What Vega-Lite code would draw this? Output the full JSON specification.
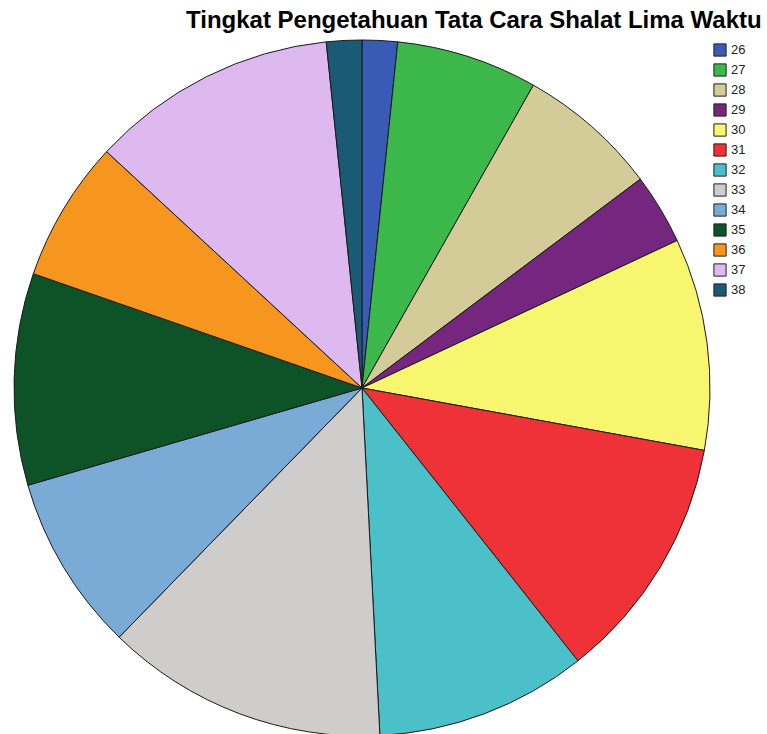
{
  "$schema": "https://vega.github.io/schema/vega-lite/v6.json",
  "width": 724,
  "height": 696,
  "autosize": {"type": "none"},
  "padding": {"left": 0, "top": 40, "right": 43, "bottom": 0},
  "background": "white",
  "config": {"view": {"stroke": null}, "font": "Liberation Sans"},
  "title": {
    "text": "Tingkat Pengetahuan Tata Cara Shalat Lima Waktu",
    "font": "Liberation Sans",
    "fontSize": 24,
    "fontWeight": "bold",
    "color": "#000000",
    "anchor": "start",
    "dx": 186,
    "offset": 5
  },
  "data": {
    "values": [
      {"skor": "26", "n": 1},
      {"skor": "27", "n": 4},
      {"skor": "28", "n": 4},
      {"skor": "29", "n": 2},
      {"skor": "30", "n": 6},
      {"skor": "31", "n": 7},
      {"skor": "32", "n": 6},
      {"skor": "33", "n": 8},
      {"skor": "34", "n": 5},
      {"skor": "35", "n": 6},
      {"skor": "36", "n": 4},
      {"skor": "37", "n": 7},
      {"skor": "38", "n": 1}
    ]
  },
  "mark": {"type": "arc", "stroke": "#1a1a1a", "strokeWidth": 1},
  "encoding": {
    "theta": {"field": "n", "type": "quantitative", "stack": true},
    "order": {"field": "skor", "type": "ordinal", "sort": "ascending"},
    "color": {
      "field": "skor",
      "type": "nominal",
      "sort": ["26","27","28","29","30","31","32","33","34","35","36","37","38"],
      "scale": {
        "domain": ["26","27","28","29","30","31","32","33","34","35","36","37","38"],
        "range": ["#3A5BB5","#3CB84A","#D4CC98","#75267E","#F8F56E","#EE3238","#4BC0C8","#CFCDCB","#7AAAD6","#0E5228","#F7961F","#DDB9F0","#1A5A75"]
      },
      "legend": {
        "title": null,
        "orient": "none",
        "legendX": 713,
        "legendY": 3,
        "symbolType": "square",
        "symbolSize": 150,
        "symbolStrokeColor": "#222222",
        "symbolStrokeWidth": 1,
        "labelFontSize": 13,
        "labelColor": "#222222",
        "labelFont": "Liberation Sans",
        "rowPadding": 2,
        "labelOffset": 4
      }
    }
  }
}
